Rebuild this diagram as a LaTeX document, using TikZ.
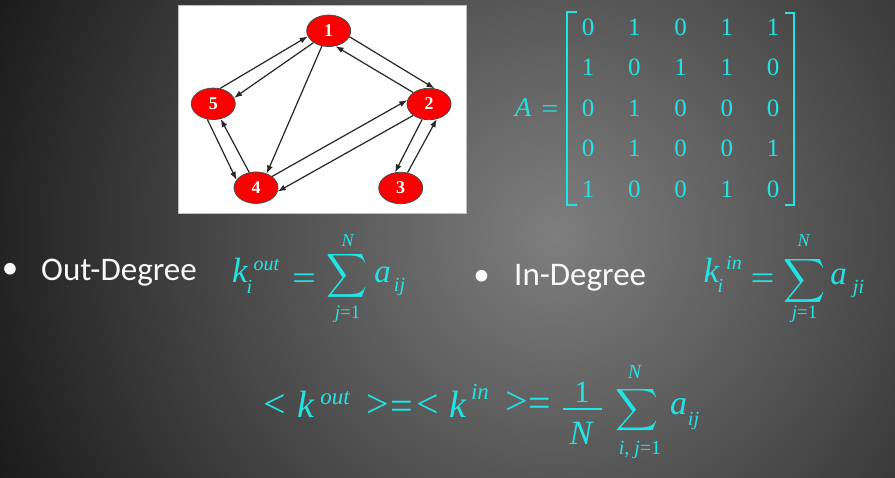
\documentclass[tikz,border=0pt]{standalone}
\usepackage{fontspec}
\setmainfont{Liberation Serif}
\newfontfamily\calibrifont{Carlito}
\usepackage{graphicx}
\usetikzlibrary{shapes.geometric,arrows.meta}
\definecolor{cy}{RGB}{35,228,228}
\definecolor{bgc}{RGB}{126,126,126}
\definecolor{nodered}{RGB}{250,0,0}
\newcommand\setfs[1]{\fontsize{#1}{#1}\selectfont}
\begin{document}
\begin{tikzpicture}[x=1pt,y=-1pt,
  mt/.style={text=cy, inner sep=0pt, outer sep=0pt, anchor=base},
  vx/.style={ellipse, draw=black!70, line width=0.8pt, fill=nodered, minimum width=44pt, minimum height=31.5pt, inner sep=0pt, text=white, font=\setfs{18}\bfseries},
  edge/.style={draw=black!85, line width=1.2pt, -{Latex[length=8pt,width=6pt]}},
  bt/.style={text=white!95!gray, inner sep=0pt, anchor=base west, font=\calibrifont\setfs{33}}
]
\useasboundingbox (0,0) rectangle (895,478);
\begin{scope}
  \clip (0,0) rectangle (895,478);
  \shade[inner color=bgc, outer color=black] (555,235) circle [radius=770];
\end{scope}

% graph panel
\draw[fill=white, draw=gray!50, line width=0.8pt] (178,5) rectangle (466,213);
\node[vx] (n1) at (328.7,30.8) {1};
\node[vx] (n5) at (213.3,103.8) {5};
\node[vx] (n2) at (429,104) {2};
\node[vx] (n4) at (256,187.7) {4};
\node[vx] (n3) at (400.7,188) {3};
\draw[edge] (n5.66) -- (n1.195);
\draw[edge] (n1.218) -- (n5.16);
\draw[edge] (n1.246) -- (n4.53);
\draw[edge] (n1.344) -- (n2.71);
\draw[edge] (n2.144) -- (n1.294);
\draw[edge] (n4.35) -- (n2.170);
\draw[edge] (n2.216) -- (n4.350);
\draw[edge] (n2.246) -- (n3.110);
\draw[edge] (n3.66) -- (n2.297);
\draw[edge] (n5.249) -- (n4.158);
\draw[edge] (n4.114) -- (n5.296);

% matrix
\node[mt, font=\setfs{27}\itshape] (mA) at (523,117) {A};
\node[mt, font=\setfs{26}] (mEq) at (550,118) {\scalebox{1.15}[1]{=}};
\draw[cy, line width=1.8pt] (577,12) -- (567,12) -- (567,205) -- (577,205);
\draw[cy, line width=1.8pt] (785,13) -- (794,13) -- (794,205) -- (785,205);
\foreach \r/\yy/\vals in {1/35.5/{0,1,0,1,1}, 2/76/{1,0,1,1,0}, 3/116.5/{0,1,0,0,0}, 4/157/{0,1,0,0,1}, 5/197.5/{1,0,0,1,0}}{
  \foreach \v [count=\c] in \vals {
    \node[mt, font=\setfs{25}] (m\r\c) at ({588+46.25*(\c-1)},\yy) {\v};
  }
}

% bullets
\node[bt, anchor=base] (b1) at (10,279) {•};
\node[bt] (t1) at (41,281) {Out-Degree};
\node[bt, anchor=base] (b2) at (481.5,286) {•};
\node[bt] (t2) at (514,286) {In-Degree};

% out-degree formula
\node[mt, font=\setfs{35}\itshape] (ko) at (240,283) {k};
\node[mt, font=\setfs{20}\itshape] (koi) at (249.5,294) {i};
\node[mt, font=\setfs{20}\itshape] (kos) at (266.5,271) {out};
\node[mt, font=\setfs{34}] (eqo) at (304,290) {\scalebox{1.25}[1]{=}};
\node[mt, anchor=center] (so) at (347.5,276) {\resizebox*{41pt}{49pt}{$\displaystyle\sum$}};
\node[mt, font=\setfs{18}\itshape] (sot) at (347.5,247) {N};
\node[mt, font=\setfs{19}] (sob) at (347.5,319) {\textit{j}=1};
\node[mt, font=\setfs{33}\itshape] (ao) at (382.5,283) {a};
\node[mt, font=\setfs{20}\itshape] (aos) at (399.5,292) {ij};

% in-degree formula
\node[mt, font=\setfs{35}\itshape] (ki) at (711.5,283) {k};
\node[mt, font=\setfs{20}\itshape] (kii) at (720.5,293) {i};
\node[mt, font=\setfs{20}\itshape] (kis) at (734,270) {in};
\node[mt, font=\setfs{34}] (eqi) at (762.5,289.5) {\scalebox{1.25}[1]{=}};
\node[mt, anchor=center] (si) at (804,281) {\resizebox*{42pt}{49pt}{$\displaystyle\sum$}};
\node[mt, font=\setfs{18}\itshape] (sit) at (803.5,247) {N};
\node[mt, font=\setfs{19}] (sib) at (804.5,319) {\textit{j}=1};
\node[mt, font=\setfs{33}\itshape] (ai) at (838.5,285) {a};
\node[mt, font=\setfs{20}\itshape] (ais) at (858.5,294) {ji};

% average degree formula
\node[mt, font=\setfs{40}] (lt1) at (275,418) {<};
\node[mt, font=\setfs{38}\itshape] (kb1) at (306,418) {k};
\node[mt, font=\setfs{23}\itshape] (kb1s) at (335,405) {out};
\node[mt, font=\setfs{40}] (gt1) at (378,418) {>};
\node[mt, font=\setfs{40}] (eqb1) at (401.5,420) {=};
\node[mt, font=\setfs{40}] (lt2) at (427.5,418) {<};
\node[mt, font=\setfs{38}\itshape] (kb2) at (457.5,418) {k};
\node[mt, font=\setfs{23}\itshape] (kb2s) at (480,400) {in};
\node[mt, font=\setfs{40}] (gt2) at (517,415) {>};
\node[mt, font=\setfs{40}] (eqb2) at (540,417) {=};
\node[mt, font=\setfs{31}] (one) at (582,403) {1};
\draw[cy, line width=2pt] (563,409) -- (602,409);
\node[mt, font=\setfs{34}\itshape] (nden) at (581,445) {N};
\node[mt, anchor=center] (sb) at (636.5,410) {\resizebox*{43pt}{47pt}{$\displaystyle\sum$}};
\node[mt, font=\setfs{20}\itshape] (sbt) at (634.5,379) {N};
\node[mt, font=\setfs{20}] (sbb) at (640,454) {\textit{i}, \textit{j}=1};
\node[mt, font=\setfs{34}\itshape] (ab) at (678.5,415) {a};
\node[mt, font=\setfs{20}\itshape] (abs) at (693.5,425) {ij};
\end{tikzpicture}
\end{document}
